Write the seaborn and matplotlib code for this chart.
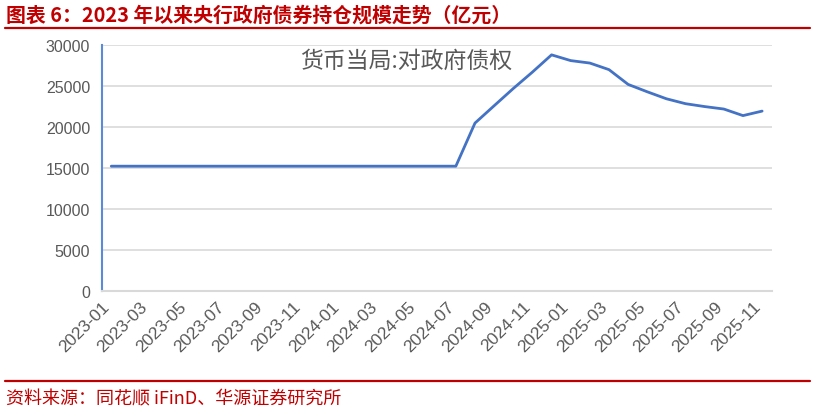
import matplotlib
matplotlib.use('Agg')
import matplotlib.pyplot as plt
import matplotlib.transforms as mtrans
import seaborn as sns
import pandas as pd

months = ['2023-01', '2023-02', '2023-03', '2023-04', '2023-05', '2023-06',
          '2023-07', '2023-08', '2023-09', '2023-10', '2023-11', '2023-12',
          '2024-01', '2024-02', '2024-03', '2024-04', '2024-05', '2024-06',
          '2024-07', '2024-08', '2024-09', '2024-10', '2024-11', '2024-12',
          '2025-01', '2025-02', '2025-03', '2025-04', '2025-05', '2025-06',
          '2025-07', '2025-08', '2025-09', '2025-10', '2025-11']
values = [15240, 15240, 15240, 15240, 15240, 15240,
          15240, 15240, 15240, 15240, 15240, 15240,
          15240, 15240, 15240, 15240, 15240, 15240,
          15240, 20490, 22600, 24700, 26700, 28800,
          28100, 27800, 27000, 25200, 24300, 23450,
          22850, 22500, 22200, 21400, 21950]
tick_labels = ['2023-01', '2023-03', '2023-05', '2023-07', '2023-09', '2023-11',
               '2024-01', '2024-03', '2024-05', '2024-07', '2024-09', '2024-11',
               '2025-01', '2025-03', '2025-05', '2025-07', '2025-09', '2025-11']
y_ticks = [0, 5000, 10000, 15000, 20000, 25000, 30000]

title = '图表 6：2023 年以来央行政府债券持仓规模走势（亿元）'
series_name = '货币当局:对政府债权'
source = '资料来源：同花顺 iFinD、华源证券研究所'

sns.set_style('white')
plt.rcParams['font.family'] = ['Liberation Sans', 'Noto Sans CJK SC', 'DejaVu Sans']

RED = '#C00000'
BLUE = '#4472C4'
AXBLUE = '#5B8BD6'
GRID = '#D9D9D9'
TXT = '#595959'

df = pd.DataFrame({'month': months, 'value': values})
df['pos'] = df.index

fig = plt.figure(figsize=(8.15, 4.14), dpi=100)
ax = fig.add_axes([101.7 / 815, 1 - 292.3 / 414, (771.7 - 101.7) / 815, (292.3 - 46) / 414])

sns.lineplot(data=df, x='pos', y='value', ax=ax, color=BLUE, linewidth=2.0)

ax.set_xlim(-0.5, len(months) - 0.5)
ax.set_ylim(0, 30000)
ax.set_yticks(y_ticks)
ax.set_yticklabels([str(v) for v in y_ticks])
pos_of = {m: i for i, m in enumerate(months)}
ax.set_xticks([pos_of[m] - 0.5 for m in tick_labels])
ax.set_xticklabels(tick_labels, rotation=45, ha='right', va='top', rotation_mode='anchor')
offset = mtrans.ScaledTranslation(13 / 100, -30 / 100, fig.dpi_scale_trans)
for lab in ax.get_xticklabels():
    lab.set_transform(lab.get_transform() + offset)

ax.set_xlabel('')
ax.set_ylabel('')
ax.yaxis.grid(True, color=GRID, linewidth=1.2)
ax.xaxis.grid(False)
ax.set_axisbelow(True)

for s in ['top', 'right']:
    ax.spines[s].set_visible(False)
ax.spines['left'].set_color(AXBLUE)
ax.spines['left'].set_linewidth(1.5)
ax.spines['bottom'].set_color(GRID)
ax.spines['bottom'].set_linewidth(1.5)

ax.tick_params(axis='y', colors=AXBLUE, length=4.3, width=1.3, labelcolor=TXT,
               labelsize=11.5, pad=4)
ax.tick_params(axis='x', colors=GRID, length=5, width=1.3, labelcolor=TXT,
               labelsize=12.5, pad=0)

fig.text(406 / 815, 1 - 61 / 414, series_name, ha='center', va='center',
         fontsize=16.5, color=TXT, family=['Noto Sans CJK SC', 'DejaVu Sans'])

fig.text(6 / 815, 1 - 15 / 414, title, ha='left', va='center', fontsize=14.3,
         fontweight='bold', color=RED, family=['Noto Sans CJK SC', 'DejaVu Sans'])
fig.add_artist(plt.Line2D([5 / 815, 810 / 815], [1 - 28.5 / 414, 1 - 28.5 / 414],
                          color=RED, linewidth=1.6, transform=fig.transFigure))
fig.add_artist(plt.Line2D([5 / 815, 810 / 815], [1 - 382 / 414, 1 - 382 / 414],
                          color=RED, linewidth=1.6, transform=fig.transFigure))
fig.text(6 / 815, 1 - 399 / 414, source, ha='left', va='center', fontsize=13,
         color=RED, family=['Noto Sans CJK SC', 'DejaVu Sans'])

fig.savefig('out.png', dpi=100)
